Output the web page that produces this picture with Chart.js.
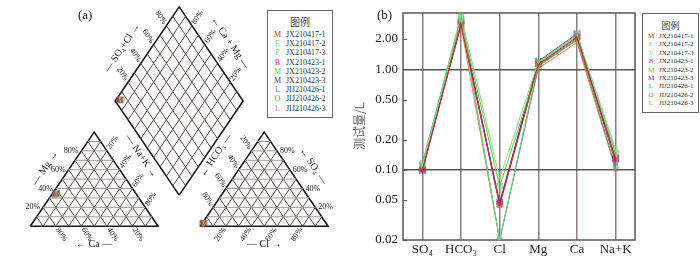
<!DOCTYPE html>
<html>
<head>
<meta charset="utf-8">
<script src="https://cdn.jsdelivr.net/npm/chart.js@4.4.1/dist/chart.umd.min.js"></script>
<style>
  body { margin: 0; background: #fff; }
  #wrap { position: relative; width: 700px; height: 261px; overflow: hidden; font-family: "Liberation Serif", serif; }
  canvas { position: absolute; top: 0; }
  #piper { left: 0; }
  #schoeller { left: 350px; }
  .tag { position: absolute; font-size: 13px; line-height: 13px; color: #222; }
  .legend { position: absolute; box-sizing: border-box; border: 1px solid #666; background: #fff; color: #333; }
  .legend .ttl { position: absolute; left: 0; right: 0; text-align: center; font-family: "Noto Sans CJK SC", sans-serif; color: #444; }
  .legend .row { position: absolute; white-space: nowrap; }
  .legend .mk { position: absolute; text-align: center; }
</style>
</head>
<body>
<div id="wrap">
  <canvas id="piper" width="350" height="261"></canvas>
  <canvas id="schoeller" width="350" height="261"></canvas>
  <div class="tag" style="left:78px;top:8px">(a)</div>
  <div class="tag" style="left:377px;top:8px">(b)</div>
  <div class="legend" id="legA" style="left:267px;top:10px;width:66px;height:108px"></div>
  <div class="legend" id="legB" style="left:642px;top:13px;width:57px;height:100px"></div>
</div>
<script>
// samples
const sampleNames = ['JX210417-1', 'JX210417-2', 'JX210417-3', 'JX210423-1', 'JX210423-2',
                     'JX210423-3', 'JIJ210426-1', 'JIJ210426-2', 'JIJ210426-3'];
const sampleLetters = ['M', 'E', 'P', 'B', 'M', 'M', 'L', 'O', 'L'];
const sampleColors = ['#b8322c', '#7fcf8a', '#8fd47a', '#d2356a', '#5cc04a',
                      '#34328a', '#5a7bd0', '#2ea26e', '#e57f5a'];

// Schoeller values, one array per ion (same sample order)
const ionLabels = ['SO₄', 'HCO₃', 'Cl', 'Mg', 'Ca', 'Na+K'];
const so4 = [0.100, 0.112, 0.108, 0.098, 0.110, 0.096, 0.101, 0.115, 0.104];
const hco3 = [2.75, 3.25, 3.45, 2.85, 3.10, 2.95, 3.00, 3.35, 2.70];
const cl = [0.045, 0.020, 0.082, 0.044, 0.068, 0.047, 0.046, 0.020, 0.020];
const mg = [1.12, 1.14, 1.18, 1.10, 1.07, 1.20, 1.17, 1.09, 1.02];
const ca = [2.10, 2.18, 2.22, 2.05, 1.95, 2.25, 2.20, 1.98, 1.85];
const nak = [0.130, 0.150, 0.160, 0.120, 0.145, 0.125, 0.118, 0.105, 0.100];
const yTicks = [0.02, 0.05, 0.1, 0.2, 0.5, 1, 2];

// Piper percentages
const mgPct = [34, 33, 35, 33, 34, 35, 34, 33, 32];
const nakPct = [3, 4, 4, 3, 4, 3, 3, 3, 3];
const so4Pct = [3, 3, 2, 3, 3, 2, 3, 3, 3];
const clPct = [1, 2, 2, 1, 2, 1, 1, 1, 1];
const pctTicks = [20, 40, 60, 80];

// piper geometry (side = 1)
const S = Math.sqrt(3) / 2, G = 0.33;
const KX = 131.6, KY = 113;
const XMIN = -26 / KX, XMAX = XMIN + 350 / KX;
const YMIN = -31 / KY, YMAX = YMIN + 261 / KY;
const X0 = 1 + G;          // left corner of anion triangle
const DC = 1 + G / 2;      // diamond centre line
const DB = G * S;          // diamond bottom
const ANG = Math.atan2(S * KY, 0.5 * KX);

function letterMarker(letter, color, size) {
    const c = document.createElement('canvas');
    c.width = size + 2; c.height = size + 2;
    const g = c.getContext('2d');
    g.font = `${size}px "Liberation Serif"`;
    g.fillStyle = color;
    g.textAlign = 'center';
    g.textBaseline = 'middle';
    g.fillText(letter, c.width / 2, c.height / 2 + 0.5);
    return c;
}

function buildLegend(el, fontSize, titleY, firstY, step, mkX, textX) {
    let html = `<div class="ttl" style="top:${titleY - 6}px;font-size:${fontSize + 2}px;line-height:12px">图例</div>`;
    sampleNames.forEach((n, i) => {
        const top = firstY + i * step - fontSize / 2;
        html += `<div class="mk" style="left:${mkX - 5}px;width:10px;top:${top}px;font-size:${fontSize}px;line-height:${fontSize}px;color:${sampleColors[i]}">${sampleLetters[i]}</div>`;
        html += `<div class="row" style="left:${textX}px;top:${top}px;font-size:${fontSize}px;line-height:${fontSize}px">${n}</div>`;
    });
    el.innerHTML = html;
}

// ---------- (a) Piper ----------
const lineSets = [];
function seg(pts, color, width) {
    lineSets.push({
        data: pts.map(p => ({ x: p[0], y: p[1] })),
        showLine: true, borderColor: color, borderWidth: width,
        pointRadius: 0, clip: false, order: 2
    });
}
const HCOL = '#a39a9a', DCOL = '#5e4a4a';
[0, X0].forEach(x0 => {
    for (let i = 1; i < 10; i++) {
        const t = i / 10;
        seg([[x0 + t * 0.5, t * S], [x0 + 1 - t * 0.5, t * S]], HCOL, 1);
        seg([[x0 + t, 0], [x0 + t + (1 - t) * 0.5, (1 - t) * S]], DCOL, 1);
        seg([[x0 + t, 0], [x0 + t * 0.5, t * S]], DCOL, 1);
    }
    seg([[x0, 0], [x0 + 1, 0], [x0 + 0.5, S], [x0, 0]], '#1a1a1a', 1.6);
});
for (let i = 1; i < 10; i++) {
    const t = i / 10;
    const p = [DC + t * 0.5, DB + t * S], q = [DC - t * 0.5, DB + t * S];
    seg([p, [p[0] - 0.5, p[1] + S]], DCOL, 1);
    seg([q, [q[0] + 0.5, q[1] + S]], DCOL, 1);
}
seg([[DC, DB], [DC + 0.5, DB + S], [DC, DB + 2 * S], [DC - 0.5, DB + S], [DC, DB]], '#1a1a1a', 1.6);

const piperSamples = sampleNames.map((n, i) => {
    const m = mgPct[i] / 100, a = nakPct[i] / 100;
    const s4 = so4Pct[i] / 100, c = clPct[i] / 100, h = 1 - s4 - c;
    const t = 2 + G - h - a;
    return {
        label: n,
        data: [
            { x: a + m * 0.5, y: m * S },
            { x: X0 + c + s4 * 0.5, y: s4 * S },
            { x: a + 0.5 * t, y: S * t }
        ],
        showLine: false, pointStyle: letterMarker(sampleLetters[i], sampleColors[i], 9),
        pointRadius: 4, clip: false, order: 1
    };
});

const piperText = {
    id: 'piperText',
    afterDatasetsDraw(chart) {
        const { ctx, scales: { x, y } } = chart;
        const P = (u, v) => [x.getPixelForValue(u), y.getPixelForValue(v)];
        const dir = (du, dv) => { const a = du * KX, b = -dv * KY, n = Math.hypot(a, b); return [a / n, b / n]; };
        const put = (txt, px, py, rot, align, size) => {
            ctx.save();
            ctx.translate(px, py);
            ctx.rotate(rot);
            ctx.font = `${size}px "Liberation Serif"`;
            ctx.fillStyle = '#222';
            ctx.textAlign = align;
            ctx.textBaseline = 'middle';
            ctx.fillText(txt, 0, 0);
            ctx.restore();
        };
        const along = (txt, pt, d, dist, rot) => put(txt, pt[0] + d[0] * dist, pt[1] + d[1] * dist, rot, 'center', 8);
        pctTicks.forEach(p => {
            const f = p / 100, txt = p + '%';
            let pt = P(f * 0.5, f * S);
            put(txt, pt[0] - 3, pt[1], 0, 'right', 8);
            along(txt, P(0.5 + 0.5 * f, (1 - f) * S), dir(0.5, S), 10, -ANG);
            along(txt, P(1 - f, 0), dir(0.5, -S), 10, ANG);
            pt = P(X0 + 1 - 0.5 * f, f * S);
            put(txt, pt[0] + 3, pt[1], 0, 'left', 8);
            along(txt, P(X0 + 0.5 * (1 - f), (1 - f) * S), dir(-0.5, S), 10, ANG);
            along(txt, P(X0 + f, 0), dir(-0.5, -S), 10, -ANG);
            along(txt, P(DC - 0.5 + 0.5 * f, DB + S + f * S), dir(-0.5, S), 10, ANG);
            along(txt, P(DC + 0.5 - 0.5 * f, DB + S + f * S), dir(0.5, S), 10, -ANG);
        });
        const titles = [
            ['— Mg →', 0.25, 0.5 * S, -17, -11, -ANG],
            ['— Na+K →', 0.75, 0.5 * S, 15, -23, ANG],
            ['← Ca —', 0.5, 0, 0, 18, 0],
            ['← HCO₃ —', X0 + 0.25, 0.5 * S, -16, -24, -ANG],
            ['← SO₄ —', X0 + 0.75, 0.5 * S, 17, -13, ANG],
            ['— Cl →', X0 + 0.5, 0, 0, 18, 0],
            ['— SO₄+Cl →', DC - 0.25, DB + 1.5 * S, -25, -6, -ANG],
            ['← Ca + Mg —', DC + 0.25, DB + 1.5 * S, 19, -11, ANG]
        ];
        titles.forEach(t => {
            const pt = P(t[1], t[2]);
            put(t[0], pt[0] + t[3], pt[1] + t[4], t[5], 'center', 10);
        });
    }
};

new Chart(document.getElementById('piper'), {
    type: 'scatter',
    data: { datasets: lineSets.concat(piperSamples) },
    options: {
        responsive: false, animation: false, events: [],
        layout: { padding: 0 },
        plugins: { legend: { display: false }, tooltip: { enabled: false } },
        scales: {
            x: { type: 'linear', min: XMIN, max: XMAX, display: false },
            y: { type: 'linear', min: YMIN, max: YMAX, display: false }
        }
    },
    plugins: [piperText]
});

// ---------- (b) Schoeller ----------
const frame = {
    id: 'frame',
    beforeDatasetsDraw(chart) {
        const { ctx, chartArea: a, scales: { y } } = chart;
        ctx.save();
        ctx.strokeStyle = '#5a5454';
        ctx.lineWidth = 1.5;
        ctx.strokeRect(a.left, a.top, a.right - a.left, a.bottom - a.top);
        ctx.lineWidth = 1;
        yTicks.forEach(v => {
            const py = Math.round(y.getPixelForValue(v)) + 0.5;
            ctx.beginPath();
            ctx.moveTo(a.left, py);
            ctx.lineTo(a.left + 4, py);
            ctx.stroke();
        });
        ctx.restore();
    }
};

const ionSeries = [so4, hco3, cl, mg, ca, nak];
new Chart(document.getElementById('schoeller'), {
    type: 'line',
    data: {
        labels: ionLabels,
        datasets: sampleNames.map((n, i) => ({
            label: n,
            data: ionSeries.map(arr => arr[i]),
            borderColor: sampleColors[i],
            borderWidth: 1,
            tension: 0,
            pointStyle: letterMarker(sampleLetters[i], sampleColors[i], 9),
            pointRadius: 4
        }))
    },
    options: {
        responsive: false, animation: false, events: [],
        layout: { padding: { top: 13, right: 65, left: 0, bottom: 0 } },
        plugins: { legend: { display: false }, tooltip: { enabled: false } },
        scales: {
            x: {
                type: 'category', offset: true,
                grid: { offset: false, color: '#8c7e7e', lineWidth: 1.5, drawTicks: false },
                border: { display: false },
                ticks: { color: '#222', padding: 2, font: { family: 'Liberation Serif', size: 13 } },
                afterFit(s) { s.height = 21; }
            },
            y: {
                type: 'logarithmic', min: 0.02, max: 3.63,
                afterBuildTicks(s) { s.ticks = yTicks.map(v => ({ value: v })); },
                grid: {
                    color: c => (c.tick && (c.tick.value === 1 || c.tick.value === 0.1)) ? '#5a5454' : 'rgba(0,0,0,0)',
                    lineWidth: 1.5, drawTicks: false
                },
                border: { display: false },
                ticks: {
                    autoSkip: false, padding: 5, color: '#222',
                    font: { family: 'Liberation Serif', size: 13 },
                    callback: v => Number(v).toFixed(2)
                },
                title: { display: true, text: '测试量/L', color: '#666', padding: { top: 2, bottom: 2 },
                         font: { family: 'Noto Sans CJK SC', size: 12 } },
                afterFit(s) { s.width = 53; }
            }
        }
    },
    plugins: [frame]
});

buildLegend(document.getElementById('legA'), 8, 11, 24, 9.2, 9.5, 18);
buildLegend(document.getElementById('legB'), 7, 12, 22.5, 8.4, 8, 16);
</script>
</body>
</html>
